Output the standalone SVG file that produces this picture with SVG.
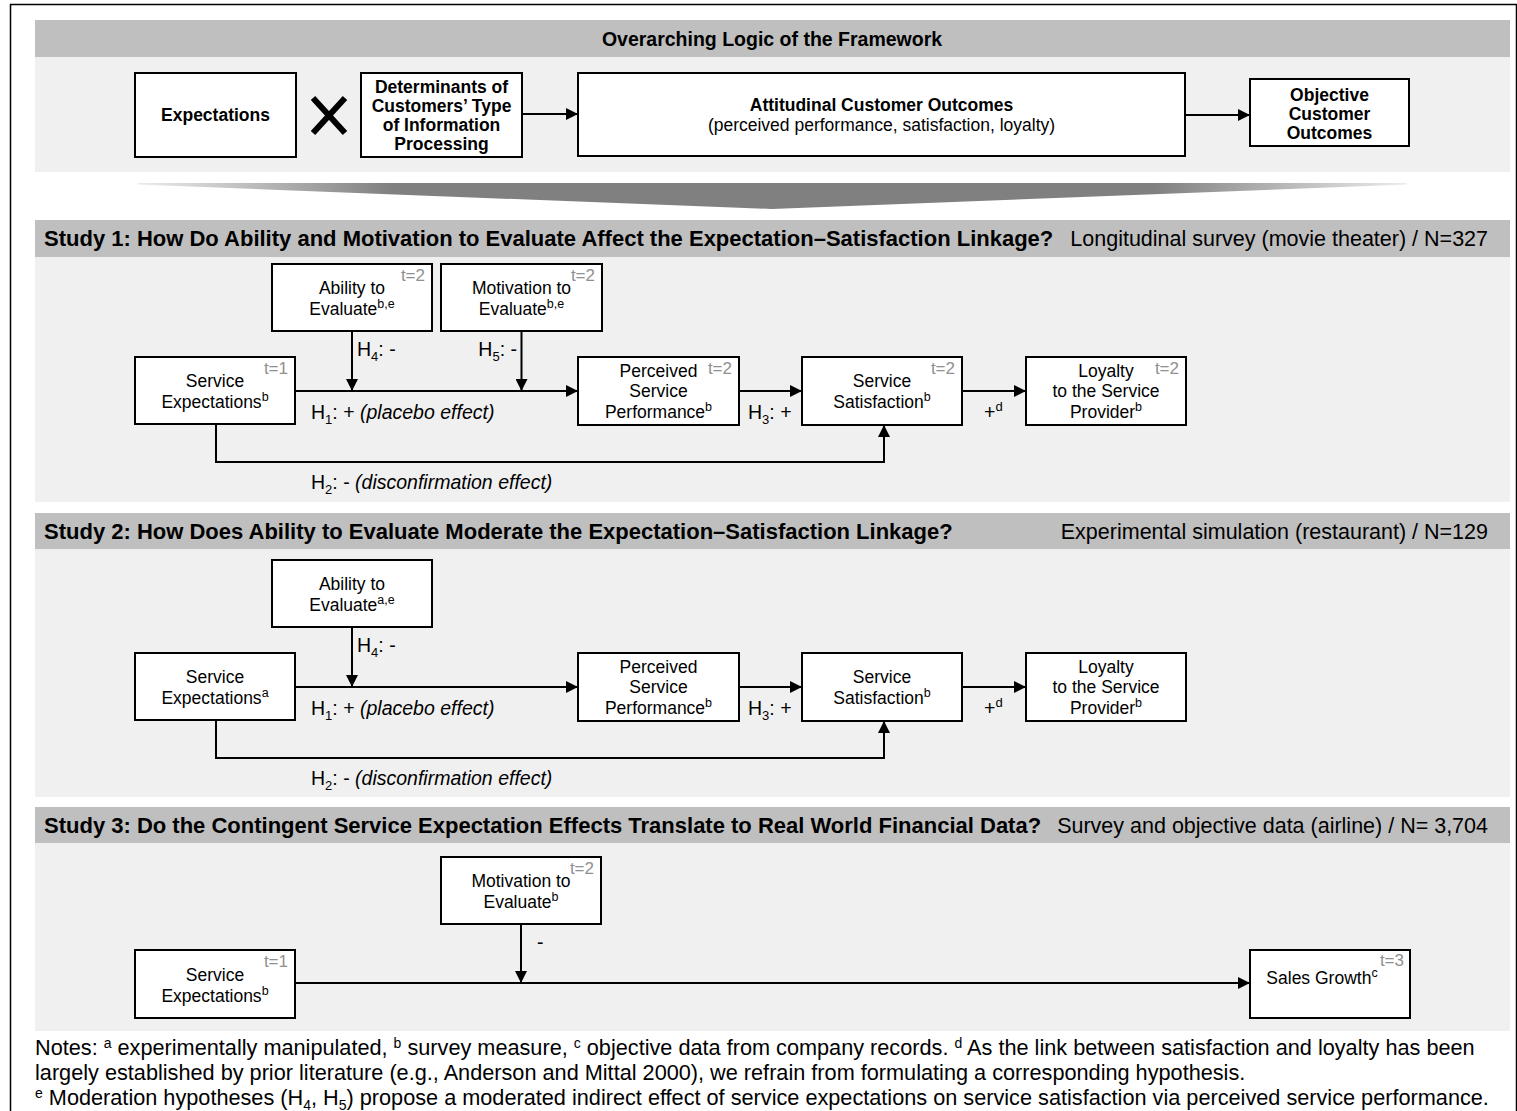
<svg xmlns="http://www.w3.org/2000/svg" width="1517" height="1111" viewBox="0 0 1517 1111">
<style>
text{font-family:"Liberation Sans",Arial,sans-serif;fill:#000}
.hdr{fill:#bfbfbf}
.pnl{fill:#f0f0f0}
.box{fill:#fff;stroke:#000;stroke-width:2}
.bt{font-size:17.5px;font-weight:bold;text-anchor:middle}
.t{font-size:17.5px;text-anchor:middle}
.lb{font-size:19.5px}
.ht{font-size:22px;font-weight:bold}
.ht0{font-size:19.5px;font-weight:bold;text-anchor:middle}
.hr{font-size:21.5px;text-anchor:end}
.tm{font-size:17px;fill:#909090;text-anchor:end}
.ln{stroke:#000;stroke-width:2;fill:none}
.nt{font-size:21.7px}
</style>
<defs>
<marker id="ah" markerUnits="userSpaceOnUse" markerWidth="12" markerHeight="12" refX="12" refY="6" orient="auto">
<path d="M0,0 L12,6 L0,12 z" fill="#000"/>
</marker>
<linearGradient id="wg" x1="0" y1="0" x2="1" y2="0">
<stop offset="0" stop-color="#ececec"/>
<stop offset="0.2" stop-color="#808080"/>
<stop offset="0.8" stop-color="#808080"/>
<stop offset="1" stop-color="#ececec"/>
</linearGradient>
</defs>
<rect x="10.5" y="4.5" width="1506" height="1120" fill="#fff" stroke="#000" stroke-width="1.5"/>

<g id="overarching">
<rect class="hdr" x="35" y="20" width="1475" height="37"/>
<rect class="pnl" x="35" y="57" width="1475" height="115"/>
<text class="ht0" x="772" y="46">Overarching Logic of the Framework</text>
</g>
<g id="n-expectations"><rect class="box" x="135" y="73" width="161" height="84"/><text class="bt" x="215.5" y="121">Expectations</text></g>
<g id="times"><path d="M313,98 L345,133 M345,98 L313,133" stroke="#000" stroke-width="6"/></g>
<g id="n-determinants"><rect class="box" x="361" y="73" width="161" height="84"/>
<text class="bt" x="441.5" y="93">Determinants of</text><text class="bt" x="441.5" y="112">Customers’ Type</text><text class="bt" x="441.5" y="131">of Information</text><text class="bt" x="441.5" y="150">Processing</text></g>
<g id="n-attitudinal"><rect class="box" x="578" y="73" width="607" height="83"/>
<text class="bt" x="881.5" y="111">Attitudinal Customer Outcomes</text><text class="t" x="881.5" y="131">(perceived performance, satisfaction, loyalty)</text></g>
<g id="n-objective"><rect class="box" x="1250" y="79" width="159" height="67"/>
<text class="bt" x="1329.5" y="101">Objective</text><text class="bt" x="1329.5" y="120">Customer</text><text class="bt" x="1329.5" y="139">Outcomes</text></g>
<g id="wedge"><polygon points="138,183 1407,183 1407,184.5 772,209 138,184.5" fill="url(#wg)"/></g>

<g id="study1">
<rect class="hdr" x="35" y="220" width="1475" height="37"/>
<rect class="pnl" x="35" y="257" width="1475" height="245"/>
<text class="ht" x="44" y="246">Study 1: How Do Ability and Motivation to Evaluate Affect the Expectation–Satisfaction Linkage?</text>
<text class="hr" x="1488" y="246">Longitudinal survey (movie theater) / N=327</text>
</g>
<g id="s1-ability"><rect class="box" x="272" y="264" width="160" height="67"/><text class="tm" x="425" y="281">t=2</text>
<text class="t" x="352" y="294">Ability to</text><text class="t" x="352" y="315">Evaluate<tspan font-size="12.5" dy="-7">b,e</tspan></text></g>
<g id="s1-motivation"><rect class="box" x="441" y="264" width="161" height="67"/><text class="tm" x="595" y="281">t=2</text>
<text class="t" x="521.5" y="294">Motivation to</text><text class="t" x="521.5" y="315">Evaluate<tspan font-size="12.5" dy="-7">b,e</tspan></text></g>
<g id="s1-expect"><rect class="box" x="135" y="357" width="160" height="67"/><text class="tm" x="288" y="374">t=1</text>
<text class="t" x="215" y="387">Service</text><text class="t" x="215" y="408">Expectations<tspan font-size="12.5" dy="-7">b</tspan></text></g>
<g id="s1-perceived"><rect class="box" x="578" y="357" width="161" height="68"/><text class="tm" x="732" y="374">t=2</text>
<text class="t" x="658.5" y="377">Perceived</text><text class="t" x="658.5" y="397">Service</text><text class="t" x="658.5" y="418">Performance<tspan font-size="12.5" dy="-7">b</tspan></text></g>
<g id="s1-satisfaction"><rect class="box" x="802" y="357" width="160" height="68"/><text class="tm" x="955" y="374">t=2</text>
<text class="t" x="882" y="387">Service</text><text class="t" x="882" y="408">Satisfaction<tspan font-size="12.5" dy="-7">b</tspan></text></g>
<g id="s1-loyalty"><rect class="box" x="1026" y="357" width="160" height="68"/><text class="tm" x="1179" y="374">t=2</text>
<text class="t" x="1106" y="377">Loyalty</text><text class="t" x="1106" y="397">to the Service</text><text class="t" x="1106" y="418">Provider<tspan font-size="12.5" dy="-7">b</tspan></text></g>

<g id="study2">
<rect class="hdr" x="35" y="513" width="1475" height="36"/>
<rect class="pnl" x="35" y="549" width="1475" height="248"/>
<text class="ht" x="44" y="539">Study 2: How Does Ability to Evaluate Moderate the Expectation–Satisfaction Linkage?</text>
<text class="hr" x="1488" y="539">Experimental simulation (restaurant) / N=129</text>
</g>
<g id="s2-ability"><rect class="box" x="272" y="560" width="160" height="67"/>
<text class="t" x="352" y="590">Ability to</text><text class="t" x="352" y="611">Evaluate<tspan font-size="12.5" dy="-7">a,e</tspan></text></g>
<g id="s2-expect"><rect class="box" x="135" y="653" width="160" height="67"/>
<text class="t" x="215" y="683">Service</text><text class="t" x="215" y="704">Expectations<tspan font-size="12.5" dy="-7">a</tspan></text></g>
<g id="s2-perceived"><rect class="box" x="578" y="653" width="161" height="68"/>
<text class="t" x="658.5" y="673">Perceived</text><text class="t" x="658.5" y="693">Service</text><text class="t" x="658.5" y="714">Performance<tspan font-size="12.5" dy="-7">b</tspan></text></g>
<g id="s2-satisfaction"><rect class="box" x="802" y="653" width="160" height="68"/>
<text class="t" x="882" y="683">Service</text><text class="t" x="882" y="704">Satisfaction<tspan font-size="12.5" dy="-7">b</tspan></text></g>
<g id="s2-loyalty"><rect class="box" x="1026" y="653" width="160" height="68"/>
<text class="t" x="1106" y="673">Loyalty</text><text class="t" x="1106" y="693">to the Service</text><text class="t" x="1106" y="714">Provider<tspan font-size="12.5" dy="-7">b</tspan></text></g>

<g id="study3">
<rect class="hdr" x="35" y="807" width="1475" height="36"/>
<rect class="pnl" x="35" y="843" width="1475" height="188"/>
<text class="ht" x="44" y="833">Study 3: Do the Contingent Service Expectation Effects Translate to Real World Financial Data?</text>
<text class="hr" x="1488" y="833">Survey and objective data (airline) / N= 3,704</text>
</g>
<g id="s3-motivation"><rect class="box" x="441" y="857" width="160" height="67"/><text class="tm" x="594" y="874">t=2</text>
<text class="t" x="521" y="887">Motivation to</text><text class="t" x="521" y="908">Evaluate<tspan font-size="12.5" dy="-7">b</tspan></text></g>
<g id="s3-expect"><rect class="box" x="135" y="950" width="160" height="68"/><text class="tm" x="288" y="967">t=1</text>
<text class="t" x="215" y="981">Service</text><text class="t" x="215" y="1002">Expectations<tspan font-size="12.5" dy="-7">b</tspan></text></g>
<g id="s3-sales"><rect class="box" x="1250" y="950" width="160" height="68"/><text class="tm" x="1404" y="966">t=3</text>
<text class="t" x="1322" y="984">Sales Growth<tspan font-size="12.5" dy="-7">c</tspan></text></g>

<g id="connectors">
<path class="ln" d="M522,114 H578" marker-end="url(#ah)"/>
<path class="ln" d="M1185,115 H1250" marker-end="url(#ah)"/>
<path class="ln" d="M295,391 H578" marker-end="url(#ah)"/>
<path class="ln" d="M352,331 V391" marker-end="url(#ah)"/>
<path class="ln" d="M521.5,331 V391" marker-end="url(#ah)"/>
<path class="ln" d="M739,391 H802" marker-end="url(#ah)"/>
<path class="ln" d="M962,391 H1026" marker-end="url(#ah)"/>
<path class="ln" d="M216,424 V462 H884 V425" marker-end="url(#ah)"/>
<path class="ln" d="M295,687 H578" marker-end="url(#ah)"/>
<path class="ln" d="M352,627 V687" marker-end="url(#ah)"/>
<path class="ln" d="M739,687 H802" marker-end="url(#ah)"/>
<path class="ln" d="M962,687 H1026" marker-end="url(#ah)"/>
<path class="ln" d="M216,720 V758 H884 V721" marker-end="url(#ah)"/>
<path class="ln" d="M295,983 H1250" marker-end="url(#ah)"/>
<path class="ln" d="M521,924 V983" marker-end="url(#ah)"/>
</g>
<g id="labels">
<text class="lb" x="357" y="356">H<tspan font-size="13" dy="5">4</tspan><tspan dy="-5">: -</tspan></text>
<text class="lb" x="517" y="356" text-anchor="end">H<tspan font-size="13" dy="5">5</tspan><tspan dy="-5">: -</tspan></text>
<text class="lb" x="311" y="419">H<tspan font-size="13" dy="5">1</tspan><tspan dy="-5">: + </tspan><tspan font-style="italic">(placebo effect)</tspan></text>
<text class="lb" x="748" y="419">H<tspan font-size="13" dy="5">3</tspan><tspan dy="-5">: +</tspan></text>
<text class="lb" x="984" y="419">+<tspan font-size="13" dy="-8">d</tspan></text>
<text class="lb" x="311" y="489">H<tspan font-size="13" dy="5">2</tspan><tspan dy="-5">: - </tspan><tspan font-style="italic">(disconfirmation effect)</tspan></text>
<text class="lb" x="357" y="652">H<tspan font-size="13" dy="5">4</tspan><tspan dy="-5">: -</tspan></text>
<text class="lb" x="311" y="715">H<tspan font-size="13" dy="5">1</tspan><tspan dy="-5">: + </tspan><tspan font-style="italic">(placebo effect)</tspan></text>
<text class="lb" x="748" y="715">H<tspan font-size="13" dy="5">3</tspan><tspan dy="-5">: +</tspan></text>
<text class="lb" x="984" y="715">+<tspan font-size="13" dy="-8">d</tspan></text>
<text class="lb" x="311" y="785">H<tspan font-size="13" dy="5">2</tspan><tspan dy="-5">: - </tspan><tspan font-style="italic">(disconfirmation effect)</tspan></text>
<text class="lb" x="537" y="949">-</text>
</g>
<g id="notes">
<text class="nt" x="35" y="1055">Notes: <tspan font-size="14" dy="-7">a</tspan><tspan dy="7"> experimentally manipulated, </tspan><tspan font-size="14" dy="-7">b</tspan><tspan dy="7"> survey measure, </tspan><tspan font-size="14" dy="-7">c</tspan><tspan dy="7"> objective data from company records. </tspan><tspan font-size="14" dy="-7">d</tspan><tspan dy="7"> As the link between satisfaction and loyalty has been</tspan></text>
<text class="nt" x="35" y="1080">largely established by prior literature (e.g., Anderson and Mittal 2000), we refrain from formulating a corresponding hypothesis.</text>
<text class="nt" x="35" y="1105"><tspan font-size="14" dy="-7">e</tspan><tspan dy="7"> Moderation hypotheses (H</tspan><tspan font-size="14" dy="5">4</tspan><tspan dy="-5">, H</tspan><tspan font-size="14" dy="5">5</tspan><tspan dy="-5">) propose a moderated indirect effect of service expectations on service satisfaction via perceived service performance.</tspan></text>
</g>
</svg>
